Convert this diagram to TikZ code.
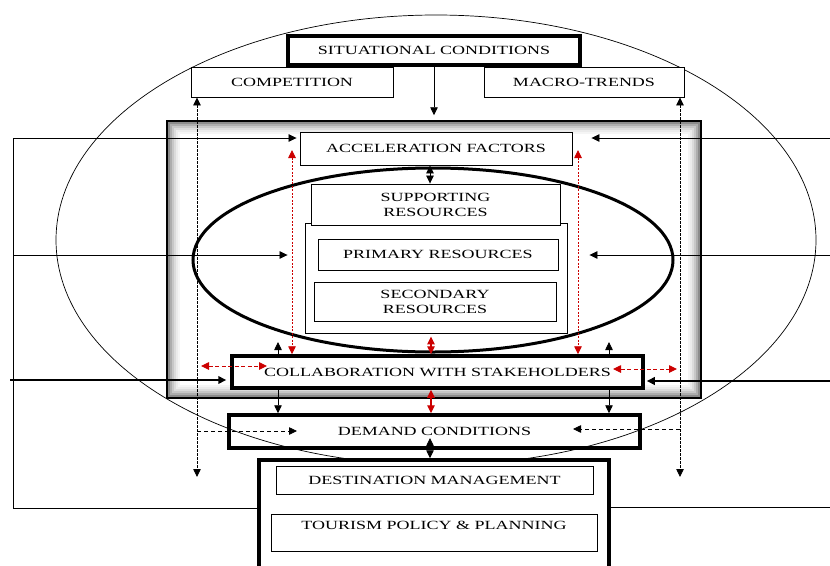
\documentclass[tikz,border=0pt]{standalone}
\usepackage{fontspec}
\setmainfont{Liberation Serif}[FakeStretch=1.44]
\usetikzlibrary{arrows.meta}
\definecolor{arrred}{RGB}{204,0,0}

\begin{document}
\begin{tikzpicture}[x=1pt, y=-1pt, font=\fontsize{12.5}{15}\selectfont,
  >={Triangle[length=8pt,width=7.5pt]},
  box/.style={draw, fill=white, inner sep=0pt, align=center, line width=0.9pt, text=black},
  thk/.style={box, line width=3.5pt},
  ln/.style={line width=0.8pt},
  dsh/.style={ln, dash pattern=on 2.5pt off 1.5pt},
  hdsh/.style={ln, dash pattern=on 4pt off 3pt},
  rdot/.style={arrred, line width=0.9pt, dash pattern=on 2pt off 1.5pt},
  rdsh/.style={arrred, line width=0.9pt, dash pattern=on 4pt off 2.5pt},
  rsol/.style={arrred, line width=1.4pt}
]
  \clip (0,0) rectangle (830,565);
  \fill[white] (0,0) rectangle (830,565);

  % outer frame
  \draw[line width=0.7pt] (436,240) ellipse [x radius=380pt, y radius=225pt];

  \node[thk, minimum width=292pt, minimum height=29pt] (sit) at (434,50.5) {SITUATIONAL CONDITIONS};
  \node[box, minimum width=202pt, minimum height=30pt] (comp) at (292,82) {COMPETITION};
  \node[box, minimum width=200pt, minimum height=30pt] (macro) at (584,82) {MACRO-TRENDS};

  % destination core with inner shadow
  \node[thk, minimum width=532pt, minimum height=275pt] (core) at (434,259.5) {};
  \foreach \i/\c in {3/45,5/32,7/22,9/14,11/8,13/4}
    \draw[black!\c, line width=2pt] ([xshift=\i pt, yshift=\i pt]core.south west) rectangle ([xshift=-\i pt, yshift=-\i pt]core.north east);

  \node[box, minimum width=272pt, minimum height=33pt] (accel) at (436,148.5) {ACCELERATION FACTORS};
  \draw[line width=3pt] (433,260) ellipse [x radius=240pt, y radius=92pt];
  \node[box, minimum width=262pt, minimum height=110pt] (res) at (436,278) {};
  \node[box, minimum width=249pt, minimum height=41pt] (supp) at (435.5,204.5) {SUPPORTING\\RESOURCES};
  \node[box, minimum width=240pt, minimum height=31pt] (prim) at (438,254.5) {PRIMARY RESOURCES};
  \node[box, minimum width=242pt, minimum height=39pt] (sec) at (435,301.5) {SECONDARY\\RESOURCES};

  \node[thk, minimum width=411pt, minimum height=32pt] (collab) at (437.5,372) {COLLABORATION WITH STAKEHOLDERS};
  \node[thk, fill=none, minimum width=411pt, minimum height=33pt] (demand) at (434.5,431.5) {DEMAND CONDITIONS};

  \node[thk, minimum width=350pt, minimum height=116pt] (mgmt) at (434,518) {};
  \node[box, minimum width=317pt, minimum height=28pt] (dest) at (434.5,480) {DESTINATION MANAGEMENT};
  \node[box, minimum width=326pt, minimum height=37pt, text depth=14pt] (tour) at (434,532.5) {TOURISM POLICY \& PLANNING};

  % free ends
  \coordinate (ld) at (197,477);
  \coordinate (rd) at (680,477);
  \coordinate (dl) at (297,431);
  \coordinate (dr) at (573,429);
  \coordinate (lt) at (13,138);
  \coordinate (lm) at (13,255);
  \coordinate (lc) at (10,380);
  \coordinate (lb) at (13,508);
  \coordinate (rt) at (830,138);
  \coordinate (rm) at (830,255);
  \coordinate (rc) at (830,381);
  \coordinate (rb) at (830,507);
  \coordinate (ra) at (292,150);
  \coordinate (rq) at (578,150);
  \coordinate (h1) at (201,366);
  \coordinate (h2) at (267,366);
  \coordinate (h3) at (613,369);
  \coordinate (h4) at (677,369);
  \coordinate (u1) at (278,342);
  \coordinate (u2) at (609,342);
  \coordinate (dm) at (430,438);

  % black connectors
  \draw[ln, ->, shorten >=5pt] (sit) -- (sit |- core.north);
  \draw[ln, <->] ([xshift=-6pt]accel.south) -- ([xshift=-5.5pt]supp.north);
  \draw[dsh, <->] (ld |- comp.south) -- (ld);
  \draw[dsh, <->] (rd |- macro.south) -- (rd);
  \draw[hdsh, ->] (ld |- dl) -- (dl);
  \draw[hdsh, ->] (rd |- dr) -- (dr);
  \draw[ln] (lt) -- (lb) -- (lb -| mgmt.west);
  \draw[ln] (mgmt.east |- rb) -- (rb);
  \draw[ln, ->, shorten >=3pt] (lt) -- (lt -| accel.west);
  \draw[ln, ->, shorten >=17pt] (lm) -- (lm -| res.west);
  \draw[line width=2pt, ->, shorten >=4pt] (lc) -- (lc -| collab.west);
  \draw[ln, ->, shorten >=19pt] (rt) -- (rt -| accel.east);
  \draw[ln, ->, shorten >=22pt] (rm) -- (rm -| res.east);
  \draw[line width=2pt, ->, shorten >=2pt] (rc) -- (rc -| collab.east);
  \draw[ln, ->] (u1 |- collab.north) -- (u1);
  \draw[ln, ->] (u2 |- collab.north) -- (u2);
  \draw[ln, ->] (u1 |- collab.south) -- (u1 |- demand.north);
  \draw[ln, ->] (u2 |- collab.south) -- (u2 |- demand.north);
  \draw[ln, <->] (dm) -- (dm |- mgmt.north);

  % red connectors
  \draw[rdot, <->] (ra) -- (ra |- collab.north);
  \draw[rdot, <->] (rq) -- (rq |- collab.north);
  \draw[rdsh, <->] (h1) -- (h2);
  \draw[rdsh, <->] (h3) -- (h4);
  \draw[rsol, <->, shorten <=3pt] ([xshift=-5pt]res.south) -- ([xshift=-6.5pt]collab.north);
  \draw[rsol, <->] ([xshift=-6.5pt]collab.south) -- ([xshift=-3.5pt]demand.north);
\end{tikzpicture}
\end{document}
